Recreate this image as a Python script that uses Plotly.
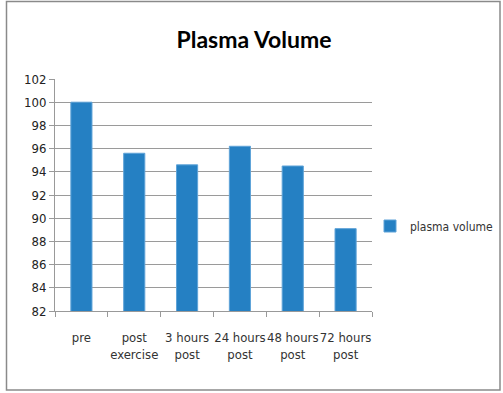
import plotly.graph_objects as go

# Plasma volume over the recovery timeline
categories = ["pre", "post<br>exercise", "3 hours<br>post", "24 hours<br>post", "48 hours<br>post", "72 hours<br>post"]
plasma_volume = [100.0, 95.6, 94.6, 96.2, 94.5, 89.1]
y_ticks = list(range(82, 103, 2))

W, H = 503, 393
L, R, T, B = 55, 131, 79, 82

fig = go.Figure()
fig.add_trace(go.Bar(
    x=categories,
    y=plasma_volume,
    name="plasma volume",
    marker=dict(color="#2580c3", line=dict(color="#5fa3d8", width=1)),
    width=0.4,
))

def px_x(px):
    return (px - L) / (W - L - R)

def px_y(py):
    return (H - B - py) / (H - T - B)

narrow = "'DejaVu Sans Condensed', 'Liberation Sans Narrow', Lato, sans-serif"

fig.update_layout(
    width=W, height=H,
    margin=dict(l=L, r=R, t=T, b=B, autoexpand=False),
    paper_bgcolor="white",
    plot_bgcolor="white",
    font=dict(family=narrow, color="#222"),
    title=dict(text="<b>Plasma Volume</b>", x=0.505, xanchor="center",
               y=1 - 40 / H, yanchor="middle",
               font=dict(family="Lato, sans-serif", size=23, color="#000")),
    showlegend=True,
    legend=dict(x=px_x(370), y=px_y(226), xanchor="left", yanchor="middle",
                font=dict(size=12, color="#333"), itemwidth=30,
                bgcolor="rgba(0,0,0,0)"),
    bargap=0.6,
)

fig.update_xaxes(
    showline=True, linecolor="#999", linewidth=1,
    ticks="outside", tickson="boundaries", ticklen=5, tickcolor="#999",
    tickfont=dict(size=13, color="#333"), tickangle=0,
    ticklabelstandoff=14,
    showgrid=False,
)
fig.update_yaxes(
    range=[82, 102], tickvals=y_ticks,
    showline=True, linecolor="#999", linewidth=1,
    ticks="outside", ticklen=5, tickcolor="#999",
    tickfont=dict(size=13, color="#222"),
    showgrid=True, gridcolor="#9a9a9a", gridwidth=1,
    zeroline=False,
)

# Outer chart frame
fig.add_shape(type="rect", xref="paper", yref="paper",
              x0=px_x(6.5), x1=px_x(500), y0=px_y(390), y1=px_y(1.5),
              line=dict(color="#8a8a8a", width=1.5), fillcolor="rgba(0,0,0,0)")

fig.write_html("out.html")
